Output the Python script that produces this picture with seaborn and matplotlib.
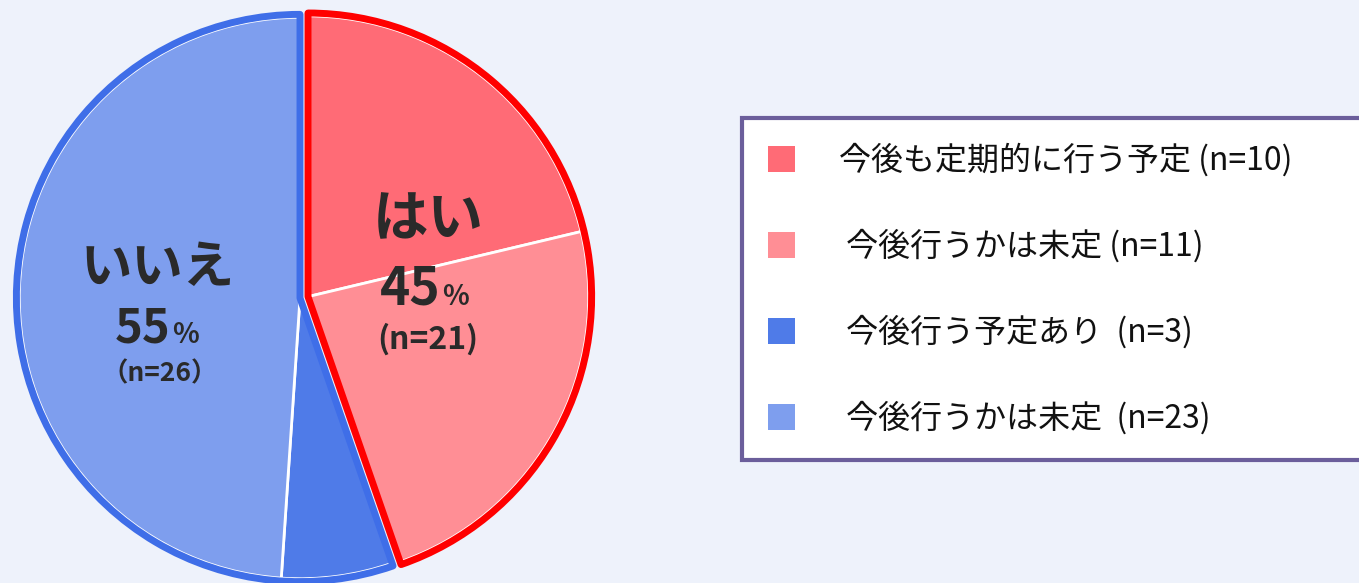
import matplotlib
matplotlib.use('Agg')
import matplotlib.pyplot as plt
import numpy as np
import seaborn as sns
from matplotlib.patches import Patch

# data
slice_labels = ['今後も定期的に行う予定', '今後行うかは未定', '今後行う予定あり', '今後行うかは未定']
slice_counts = [10, 11, 3, 23]
legend_labels = ['今後も定期的に行う予定 (n=10)', ' 今後行うかは未定 (n=11)',
                 ' 今後行う予定あり  (n=3)', ' 今後行うかは未定  (n=23)']
group_names = ['はい', 'いいえ']
group_counts = [21, 26]
group_slices = [[0, 1], [2, 3]]

slice_colors = ['#FF6B76', '#FF8E95', '#4F7BE8', '#7E9EEE']
group_edge_colors = ['#FF0000', '#3F6EE8']
bg = '#EEF2FB'
text_color = '#2A2A2A'

sns.set_theme(style='white')
plt.rcParams['font.family'] = ['Noto Sans CJK JP', 'DejaVu Sans']

W, H = 1359, 583
fig = plt.figure(figsize=(W / 100, H / 100), dpi=100, facecolor=bg)
ax = fig.add_axes([10 / W, -5 / H, 580 / W, 580 / H])
ax.set_xlim(-1, 1)
ax.set_ylim(-1, 1)
ax.set_aspect('equal')
ax.axis('off')

total = sum(slice_counts)
explode_dist = [0.028, 0.0]
r_in = 0.968
r_out = 0.978

cum = 0
for g, (name, n) in enumerate(zip(group_names, group_counts)):
    # offset of the whole group along its mid angle
    mid = np.deg2rad(90 - 360 * (cum + n / 2) / total)
    center = (explode_dist[g] * np.cos(mid), explode_dist[g] * np.sin(mid))

    vals = [slice_counts[i] for i in group_slices[g]]
    # rest of the circle is drawn invisible
    before, after = cum, total - cum - n
    seq = ([before] if before else []) + vals + ([after] if after else [])
    cols = (['none'] if before else []) + [slice_colors[i] for i in group_slices[g]] + (['none'] if after else [])
    wedges, _ = ax.pie(seq, colors=cols, startangle=90, counterclock=False, radius=r_in, center=center,
                       wedgeprops=dict(edgecolor='white', linewidth=2))
    for w, c in zip(wedges, cols):
        if c == 'none':
            w.set_visible(False)

    seq2 = ([before] if before else []) + [n] + ([after] if after else [])
    flags = ([False] if before else []) + [True] + ([False] if after else [])
    wedges2, _ = ax.pie(seq2, startangle=90, counterclock=False, radius=r_out, center=center,
                        wedgeprops=dict(facecolor='none', edgecolor=group_edge_colors[g], linewidth=5,
                                        joinstyle='round'))
    for w, f in zip(wedges2, flags):
        w.set_visible(f)
        w.set_facecolor('none')
    cum += n

ax.set_xlim(-1, 1)
ax.set_ylim(-1, 1)

pcts = [round(100 * n / total) for n in group_counts]

# group labels
ax.text(0.441, 0.27, group_names[0], ha='center', va='center', fontsize=40, fontweight='bold', color=text_color)
ax.text(0.486, -0.024, f'{pcts[0]}', ha='right', va='baseline', fontsize=37, fontweight='bold', color=text_color)
ax.text(0.49, -0.024, '%', ha='left', va='baseline', fontsize=20, fontweight='bold', color=text_color)
ax.text(0.441, -0.144, f'(n={group_counts[0]})', ha='center', va='center', fontsize=23, fontweight='bold',
        color=text_color)

ax.text(-0.49, 0.104, group_names[1], ha='center', va='center', fontsize=37, fontweight='bold', color=text_color)
ax.text(-0.445, -0.155, f'{pcts[1]}', ha='right', va='baseline', fontsize=34, fontweight='bold', color=text_color)
ax.text(-0.441, -0.155, '%', ha='left', va='baseline', fontsize=20, fontweight='bold', color=text_color)
ax.text(-0.483, -0.262, f'（n={group_counts[1]}）', ha='center', va='center', fontsize=19, fontweight='bold',
        color=text_color)

# legend
handles = [Patch(facecolor=c, edgecolor='none') for c in slice_colors]
leg = fig.legend(handles, legend_labels, loc='upper left',
                 bbox_to_anchor=(742 / W, 0, 700 / W, 1 - 118 / H), mode='expand',
                 fontsize=23, frameon=True, fancybox=False, handlelength=0.85, handleheight=0.85,
                 handletextpad=1.4, labelspacing=1.64, borderpad=0.8, borderaxespad=0)
frame = leg.get_frame()
frame.set_edgecolor('#6B5E9B')
frame.set_linewidth(3)
frame.set_facecolor('white')
frame.set_alpha(1)
for t in leg.get_texts():
    t.set_color('#111111')

fig.savefig('out.png', dpi=100, facecolor=bg)
